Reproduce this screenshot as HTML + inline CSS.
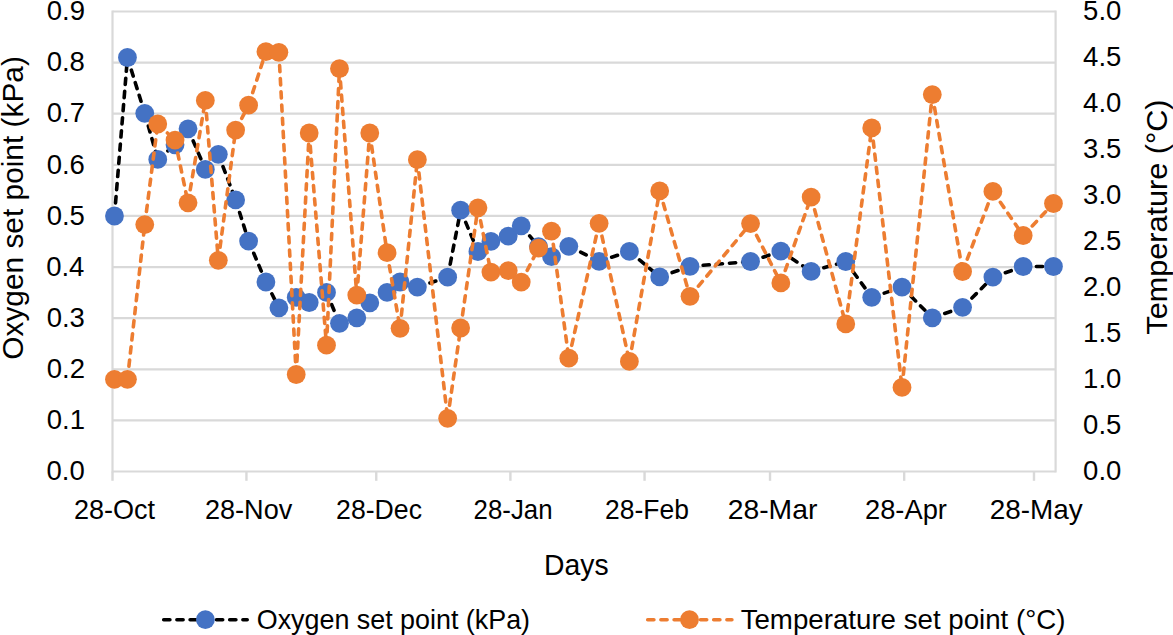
<!DOCTYPE html><html><head><meta charset="utf-8"><style>html,body{margin:0;padding:0;background:#fff;}svg{display:block;}text{font-family:"Liberation Sans",sans-serif;fill:#000;}</style></head><body>
<svg width="1173" height="635" viewBox="0 0 1173 635">
<rect width="1173" height="635" fill="#fff"/>
<line x1="112.5" y1="471.50" x2="1055.6" y2="471.50" stroke="#D9D9D9" stroke-width="2.2"/>
<line x1="112.5" y1="420.39" x2="1055.6" y2="420.39" stroke="#D9D9D9" stroke-width="2.2"/>
<line x1="112.5" y1="369.28" x2="1055.6" y2="369.28" stroke="#D9D9D9" stroke-width="2.2"/>
<line x1="112.5" y1="318.17" x2="1055.6" y2="318.17" stroke="#D9D9D9" stroke-width="2.2"/>
<line x1="112.5" y1="267.06" x2="1055.6" y2="267.06" stroke="#D9D9D9" stroke-width="2.2"/>
<line x1="112.5" y1="215.94" x2="1055.6" y2="215.94" stroke="#D9D9D9" stroke-width="2.2"/>
<line x1="112.5" y1="164.83" x2="1055.6" y2="164.83" stroke="#D9D9D9" stroke-width="2.2"/>
<line x1="112.5" y1="113.72" x2="1055.6" y2="113.72" stroke="#D9D9D9" stroke-width="2.2"/>
<line x1="112.5" y1="62.61" x2="1055.6" y2="62.61" stroke="#D9D9D9" stroke-width="2.2"/>
<line x1="112.5" y1="11.50" x2="1055.6" y2="11.50" stroke="#D9D9D9" stroke-width="2.2"/>
<line x1="112.5" y1="10.4" x2="112.5" y2="472.6" stroke="#D9D9D9" stroke-width="2.2"/>
<line x1="1055.6" y1="10.4" x2="1055.6" y2="472.6" stroke="#D9D9D9" stroke-width="2.2"/>
<line x1="112.50" y1="471.5" x2="112.50" y2="480.8" stroke="#D9D9D9" stroke-width="2.4"/>
<line x1="246.44" y1="471.5" x2="246.44" y2="480.8" stroke="#D9D9D9" stroke-width="2.4"/>
<line x1="376.26" y1="471.5" x2="376.26" y2="480.8" stroke="#D9D9D9" stroke-width="2.4"/>
<line x1="510.40" y1="471.5" x2="510.40" y2="480.8" stroke="#D9D9D9" stroke-width="2.4"/>
<line x1="644.55" y1="471.5" x2="644.55" y2="480.8" stroke="#D9D9D9" stroke-width="2.4"/>
<line x1="770.03" y1="471.5" x2="770.03" y2="480.8" stroke="#D9D9D9" stroke-width="2.4"/>
<line x1="904.18" y1="471.5" x2="904.18" y2="480.8" stroke="#D9D9D9" stroke-width="2.4"/>
<line x1="1033.99" y1="471.5" x2="1033.99" y2="480.8" stroke="#D9D9D9" stroke-width="2.4"/>
<path d="M114.46,216.00 L127.45,57.50 M127.45,57.50 L144.75,113.30 M144.75,113.30 L157.74,159.40 M157.74,159.40 L175.04,144.80 M175.04,144.80 L188.03,128.80 M188.03,128.80 L205.33,169.40 M205.33,169.40 L218.32,154.30 M218.32,154.30 L235.63,199.90 M235.63,199.90 L248.61,241.10 M248.61,241.10 L265.92,282.00 M265.92,282.00 L278.90,307.80 M278.90,307.80 L296.21,297.40 M296.21,297.40 L309.19,302.50 M309.19,302.50 L326.50,292.40 M326.50,292.40 L339.48,323.30 M339.48,323.30 L356.79,317.80 M356.79,317.80 L369.77,302.80 M369.77,302.80 L387.08,292.40 M387.08,292.40 L400.06,282.00 M400.06,282.00 L417.37,287.10 M417.37,287.10 L447.66,277.20 M447.66,277.20 L460.64,210.20 M460.64,210.20 L477.95,251.50 M477.95,251.50 L490.93,241.40 M490.93,241.40 L508.24,236.10 M508.24,236.10 L521.22,225.80 M521.22,225.80 L538.53,246.60 M538.53,246.60 L551.51,256.70 M551.51,256.70 L568.82,246.30 M568.82,246.30 L599.11,261.40 M599.11,261.40 L629.40,251.40 M629.40,251.40 L659.69,276.90 M659.69,276.90 L689.98,266.30 M689.98,266.30 L750.56,261.50 M750.56,261.50 L780.85,251.10 M780.85,251.10 L811.14,271.40 M811.14,271.40 L845.76,261.50 M845.76,261.50 L871.72,297.30 M871.72,297.30 L902.01,287.10 M902.01,287.10 L932.30,317.80 M932.30,317.80 L962.59,307.30 M962.59,307.30 L992.89,277.10 M992.89,277.10 L1023.18,266.50 M1023.18,266.50 L1053.47,266.50" fill="none" stroke="#000" stroke-width="3.6" stroke-dasharray="6.2 7.0" stroke-linecap="round" stroke-linejoin="round"/>
<circle cx="114.46" cy="216.00" r="9.4" fill="#4472C4"/>
<circle cx="127.45" cy="57.50" r="9.4" fill="#4472C4"/>
<circle cx="144.75" cy="113.30" r="9.4" fill="#4472C4"/>
<circle cx="157.74" cy="159.40" r="9.4" fill="#4472C4"/>
<circle cx="175.04" cy="144.80" r="9.4" fill="#4472C4"/>
<circle cx="188.03" cy="128.80" r="9.4" fill="#4472C4"/>
<circle cx="205.33" cy="169.40" r="9.4" fill="#4472C4"/>
<circle cx="218.32" cy="154.30" r="9.4" fill="#4472C4"/>
<circle cx="235.63" cy="199.90" r="9.4" fill="#4472C4"/>
<circle cx="248.61" cy="241.10" r="9.4" fill="#4472C4"/>
<circle cx="265.92" cy="282.00" r="9.4" fill="#4472C4"/>
<circle cx="278.90" cy="307.80" r="9.4" fill="#4472C4"/>
<circle cx="296.21" cy="297.40" r="9.4" fill="#4472C4"/>
<circle cx="309.19" cy="302.50" r="9.4" fill="#4472C4"/>
<circle cx="326.50" cy="292.40" r="9.4" fill="#4472C4"/>
<circle cx="339.48" cy="323.30" r="9.4" fill="#4472C4"/>
<circle cx="356.79" cy="317.80" r="9.4" fill="#4472C4"/>
<circle cx="369.77" cy="302.80" r="9.4" fill="#4472C4"/>
<circle cx="387.08" cy="292.40" r="9.4" fill="#4472C4"/>
<circle cx="400.06" cy="282.00" r="9.4" fill="#4472C4"/>
<circle cx="417.37" cy="287.10" r="9.4" fill="#4472C4"/>
<circle cx="447.66" cy="277.20" r="9.4" fill="#4472C4"/>
<circle cx="460.64" cy="210.20" r="9.4" fill="#4472C4"/>
<circle cx="477.95" cy="251.50" r="9.4" fill="#4472C4"/>
<circle cx="490.93" cy="241.40" r="9.4" fill="#4472C4"/>
<circle cx="508.24" cy="236.10" r="9.4" fill="#4472C4"/>
<circle cx="521.22" cy="225.80" r="9.4" fill="#4472C4"/>
<circle cx="538.53" cy="246.60" r="9.4" fill="#4472C4"/>
<circle cx="551.51" cy="256.70" r="9.4" fill="#4472C4"/>
<circle cx="568.82" cy="246.30" r="9.4" fill="#4472C4"/>
<circle cx="599.11" cy="261.40" r="9.4" fill="#4472C4"/>
<circle cx="629.40" cy="251.40" r="9.4" fill="#4472C4"/>
<circle cx="659.69" cy="276.90" r="9.4" fill="#4472C4"/>
<circle cx="689.98" cy="266.30" r="9.4" fill="#4472C4"/>
<circle cx="750.56" cy="261.50" r="9.4" fill="#4472C4"/>
<circle cx="780.85" cy="251.10" r="9.4" fill="#4472C4"/>
<circle cx="811.14" cy="271.40" r="9.4" fill="#4472C4"/>
<circle cx="845.76" cy="261.50" r="9.4" fill="#4472C4"/>
<circle cx="871.72" cy="297.30" r="9.4" fill="#4472C4"/>
<circle cx="902.01" cy="287.10" r="9.4" fill="#4472C4"/>
<circle cx="932.30" cy="317.80" r="9.4" fill="#4472C4"/>
<circle cx="962.59" cy="307.30" r="9.4" fill="#4472C4"/>
<circle cx="992.89" cy="277.10" r="9.4" fill="#4472C4"/>
<circle cx="1023.18" cy="266.50" r="9.4" fill="#4472C4"/>
<circle cx="1053.47" cy="266.50" r="9.4" fill="#4472C4"/>
<path d="M114.46,379.30 L127.45,379.30 M127.45,379.30 L144.75,224.60 M144.75,224.60 L157.74,124.00 M157.74,124.00 L175.04,140.10 M175.04,140.10 L188.03,202.80 M188.03,202.80 L205.33,100.40 M205.33,100.40 L218.32,260.30 M218.32,260.30 L235.63,130.10 M235.63,130.10 L248.61,105.20 M248.61,105.20 L265.92,51.70 M265.92,51.70 L278.90,52.30 M278.90,52.30 L296.21,374.50 M296.21,374.50 L309.19,133.00 M309.19,133.00 L326.50,345.20 M326.50,345.20 L339.48,68.70 M339.48,68.70 L356.79,295.10 M356.79,295.10 L369.77,133.00 M369.77,133.00 L387.08,252.70 M387.08,252.70 L400.06,328.30 M400.06,328.30 L417.37,159.70 M417.37,159.70 L447.66,418.30 M447.66,418.30 L460.64,328.00 M460.64,328.00 L477.95,207.80 M477.95,207.80 L490.93,272.10 M490.93,272.10 L508.24,270.70 M508.24,270.70 L521.22,282.10 M521.22,282.10 L538.53,248.10 M538.53,248.10 L551.51,231.20 M551.51,231.20 L568.82,358.20 M568.82,358.20 L599.11,223.30 M599.11,223.30 L629.40,361.40 M629.40,361.40 L659.69,190.90 M659.69,190.90 L689.98,296.30 M689.98,296.30 L750.56,223.60 M750.56,223.60 L780.85,282.90 M780.85,282.90 L811.14,197.10 M811.14,197.10 L845.76,323.90 M845.76,323.90 L871.72,127.90 M871.72,127.90 L902.01,387.40 M902.01,387.40 L932.30,94.60 M932.30,94.60 L962.59,271.50 M962.59,271.50 L992.89,191.40 M992.89,191.40 L1023.18,235.50 M1023.18,235.50 L1053.47,203.50" fill="none" stroke="#ED7D31" stroke-width="3.6" stroke-dasharray="6.2 7.0" stroke-linecap="round" stroke-linejoin="round"/>
<circle cx="114.46" cy="379.30" r="9.4" fill="#ED7D31"/>
<circle cx="127.45" cy="379.30" r="9.4" fill="#ED7D31"/>
<circle cx="144.75" cy="224.60" r="9.4" fill="#ED7D31"/>
<circle cx="157.74" cy="124.00" r="9.4" fill="#ED7D31"/>
<circle cx="175.04" cy="140.10" r="9.4" fill="#ED7D31"/>
<circle cx="188.03" cy="202.80" r="9.4" fill="#ED7D31"/>
<circle cx="205.33" cy="100.40" r="9.4" fill="#ED7D31"/>
<circle cx="218.32" cy="260.30" r="9.4" fill="#ED7D31"/>
<circle cx="235.63" cy="130.10" r="9.4" fill="#ED7D31"/>
<circle cx="248.61" cy="105.20" r="9.4" fill="#ED7D31"/>
<circle cx="265.92" cy="51.70" r="9.4" fill="#ED7D31"/>
<circle cx="278.90" cy="52.30" r="9.4" fill="#ED7D31"/>
<circle cx="296.21" cy="374.50" r="9.4" fill="#ED7D31"/>
<circle cx="309.19" cy="133.00" r="9.4" fill="#ED7D31"/>
<circle cx="326.50" cy="345.20" r="9.4" fill="#ED7D31"/>
<circle cx="339.48" cy="68.70" r="9.4" fill="#ED7D31"/>
<circle cx="356.79" cy="295.10" r="9.4" fill="#ED7D31"/>
<circle cx="369.77" cy="133.00" r="9.4" fill="#ED7D31"/>
<circle cx="387.08" cy="252.70" r="9.4" fill="#ED7D31"/>
<circle cx="400.06" cy="328.30" r="9.4" fill="#ED7D31"/>
<circle cx="417.37" cy="159.70" r="9.4" fill="#ED7D31"/>
<circle cx="447.66" cy="418.30" r="9.4" fill="#ED7D31"/>
<circle cx="460.64" cy="328.00" r="9.4" fill="#ED7D31"/>
<circle cx="477.95" cy="207.80" r="9.4" fill="#ED7D31"/>
<circle cx="490.93" cy="272.10" r="9.4" fill="#ED7D31"/>
<circle cx="508.24" cy="270.70" r="9.4" fill="#ED7D31"/>
<circle cx="521.22" cy="282.10" r="9.4" fill="#ED7D31"/>
<circle cx="538.53" cy="248.10" r="9.4" fill="#ED7D31"/>
<circle cx="551.51" cy="231.20" r="9.4" fill="#ED7D31"/>
<circle cx="568.82" cy="358.20" r="9.4" fill="#ED7D31"/>
<circle cx="599.11" cy="223.30" r="9.4" fill="#ED7D31"/>
<circle cx="629.40" cy="361.40" r="9.4" fill="#ED7D31"/>
<circle cx="659.69" cy="190.90" r="9.4" fill="#ED7D31"/>
<circle cx="689.98" cy="296.30" r="9.4" fill="#ED7D31"/>
<circle cx="750.56" cy="223.60" r="9.4" fill="#ED7D31"/>
<circle cx="780.85" cy="282.90" r="9.4" fill="#ED7D31"/>
<circle cx="811.14" cy="197.10" r="9.4" fill="#ED7D31"/>
<circle cx="845.76" cy="323.90" r="9.4" fill="#ED7D31"/>
<circle cx="871.72" cy="127.90" r="9.4" fill="#ED7D31"/>
<circle cx="902.01" cy="387.40" r="9.4" fill="#ED7D31"/>
<circle cx="932.30" cy="94.60" r="9.4" fill="#ED7D31"/>
<circle cx="962.59" cy="271.50" r="9.4" fill="#ED7D31"/>
<circle cx="992.89" cy="191.40" r="9.4" fill="#ED7D31"/>
<circle cx="1023.18" cy="235.50" r="9.4" fill="#ED7D31"/>
<circle cx="1053.47" cy="203.50" r="9.4" fill="#ED7D31"/>
<text x="84.80" y="480.20" font-size="27.5" text-anchor="end">0.0</text>
<text x="85.00" y="429.09" font-size="27.5" text-anchor="end">0.1</text>
<text x="85.03" y="377.98" font-size="27.5" text-anchor="end">0.2</text>
<text x="84.93" y="326.87" font-size="27.5" text-anchor="end">0.3</text>
<text x="84.40" y="275.76" font-size="27.5" text-anchor="end">0.4</text>
<text x="84.88" y="224.64" font-size="27.5" text-anchor="end">0.5</text>
<text x="84.93" y="173.53" font-size="27.5" text-anchor="end">0.6</text>
<text x="85.03" y="122.42" font-size="27.5" text-anchor="end">0.7</text>
<text x="84.92" y="71.31" font-size="27.5" text-anchor="end">0.8</text>
<text x="85.00" y="20.20" font-size="27.5" text-anchor="end">0.9</text>
<text x="1083.12" y="480.20" font-size="27.5">0.0</text>
<text x="1083.12" y="434.20" font-size="27.5">0.5</text>
<text x="1083.12" y="388.20" font-size="27.5">1.0</text>
<text x="1083.12" y="342.20" font-size="27.5">1.5</text>
<text x="1083.12" y="296.20" font-size="27.5">2.0</text>
<text x="1083.12" y="250.20" font-size="27.5">2.5</text>
<text x="1083.12" y="204.20" font-size="27.5">3.0</text>
<text x="1083.12" y="158.20" font-size="27.5">3.5</text>
<text x="1083.12" y="112.20" font-size="27.5">4.0</text>
<text x="1083.12" y="66.20" font-size="27.5">4.5</text>
<text x="1083.12" y="20.20" font-size="27.5">5.0</text>
<text x="73.93" y="518.60" font-size="27.5" textLength="81.17" lengthAdjust="spacingAndGlyphs">28-Oct</text>
<text x="204.93" y="518.60" font-size="27.5" textLength="87.35" lengthAdjust="spacingAndGlyphs">28-Nov</text>
<text x="336.05" y="518.60" font-size="27.5" textLength="85.99" lengthAdjust="spacingAndGlyphs">28-Dec</text>
<text x="473.60" y="518.60" font-size="27.5" textLength="78.90" lengthAdjust="spacingAndGlyphs">28-Jan</text>
<text x="605.06" y="518.60" font-size="27.5" textLength="83.85" lengthAdjust="spacingAndGlyphs">28-Feb</text>
<text x="727.67" y="518.60" font-size="27.5" textLength="89.69" lengthAdjust="spacingAndGlyphs">28-Mar</text>
<text x="865.02" y="518.60" font-size="27.5" textLength="81.89" lengthAdjust="spacingAndGlyphs">28-Apr</text>
<text x="989.79" y="518.60" font-size="27.5" textLength="93.04" lengthAdjust="spacingAndGlyphs">28-May</text>
<text x="544.06" y="574.80" font-size="30.2" textLength="64.58" lengthAdjust="spacingAndGlyphs">Days</text>
<text transform="translate(23.20,359.68) rotate(-90)" x="0" y="0" font-size="30.2" textLength="303.52" lengthAdjust="spacingAndGlyphs">Oxygen set point (kPa)</text>
<text transform="translate(1166.80,334.68) rotate(-90)" x="0" y="0" font-size="30.2" textLength="235.24" lengthAdjust="spacingAndGlyphs">Temperature (°C)</text>
<text x="256.76" y="629.00" font-size="27.5" textLength="273.30" lengthAdjust="spacingAndGlyphs">Oxygen set point (kPa)</text>
<text x="740.65" y="629.00" font-size="27.5" textLength="324.84" lengthAdjust="spacingAndGlyphs">Temperature set point (°C)</text>
<line x1="163.7" y1="619.7" x2="247.2" y2="619.7" stroke="#000" stroke-width="3.6" stroke-dasharray="6.2 7.0" stroke-linecap="round"/><circle cx="205.4" cy="619.7" r="9.4" fill="#4472C4"/>
<line x1="647.7" y1="619.7" x2="731.9" y2="619.7" stroke="#ED7D31" stroke-width="3.6" stroke-dasharray="6.2 7.0" stroke-linecap="round"/><circle cx="689.5" cy="619.7" r="9.4" fill="#ED7D31"/>
</svg></body></html>
